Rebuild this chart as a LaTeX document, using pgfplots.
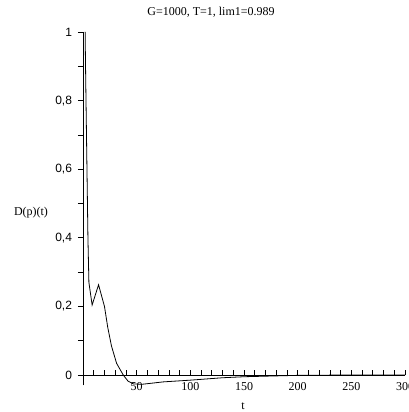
\documentclass[border=0pt]{standalone}
\usepackage{fontspec}
\setmainfont{Liberation Serif}
\newfontfamily\sansf{Liberation Sans}
\usepackage{pgfplots}
\pgfplotsset{compat=1.18}
\begin{document}
\begin{tikzpicture}
\useasboundingbox (-83pt,-26.7pt) rectangle (325pt,385.3pt);
\begin{axis}[
  at={(0pt,0pt)}, anchor=south west,
  scale only axis, width=322pt, height=353.3pt,
  xmin=0, xmax=300, ymin=-0.03, ymax=1,
  axis lines=middle,
  axis line style={-, black, line width=0.8pt},
  hide obscured x ticks=false, hide obscured y ticks=false,
  xtick={50,100,150,200,250,300},
  xticklabels={50,100,150,200,250,300},
  minor xtick={10,20,30,40,60,70,80,90,110,120,130,140,160,170,180,190,210,220,230,240,260,270,280,290},
  ytick={0,0.2,0.4,0.6,0.8,1},
  yticklabels={0,{0,2},{0,4},{0,6},{0,8},1},
  minor ytick={0.1,0.3,0.5,0.7,0.9},
  tick align=center,
  major tick length=5pt, minor tick length=5pt,
  x tick style={black, line width=0.7pt, yshift=2.5pt},
  y tick style={black, line width=0.7pt, xshift=-2.5pt},
  xticklabel style={font=\fontsize{12}{14}\selectfont, yshift=-1pt},
  yticklabel style={font=\sansf\fontsize{12}{14}\selectfont, xshift=-5pt},
  clip=false,
]
\addplot[black, line width=0.8pt] coordinates {
(2.0,1.0) (2.2,0.94) (2.8,0.80) (3.7,0.60) (4.6,0.40) (5.5,0.27)
(8.5,0.204) (14.5,0.263) (20,0.20) (23,0.14) (26.5,0.085) (31.3,0.034)
(37.5,0.0) (42,-0.018) (47,-0.026) (55,-0.027) (75,-0.020) (100,-0.015)
(130,-0.008) (150,-0.005) (200,-0.001) (250,0) (300,0)
};
\end{axis}
\node[font=\fontsize{12}{14}\selectfont] at (128pt,373pt) {G=1000, T=1, lim1=0.989};
\node[font=\fontsize{12}{14}\selectfont] at (-52pt,173pt) {D(p)(t)};
\node[font=\fontsize{12}{14}\selectfont] at (160pt,-21pt) {t};
\end{tikzpicture}
\end{document}
